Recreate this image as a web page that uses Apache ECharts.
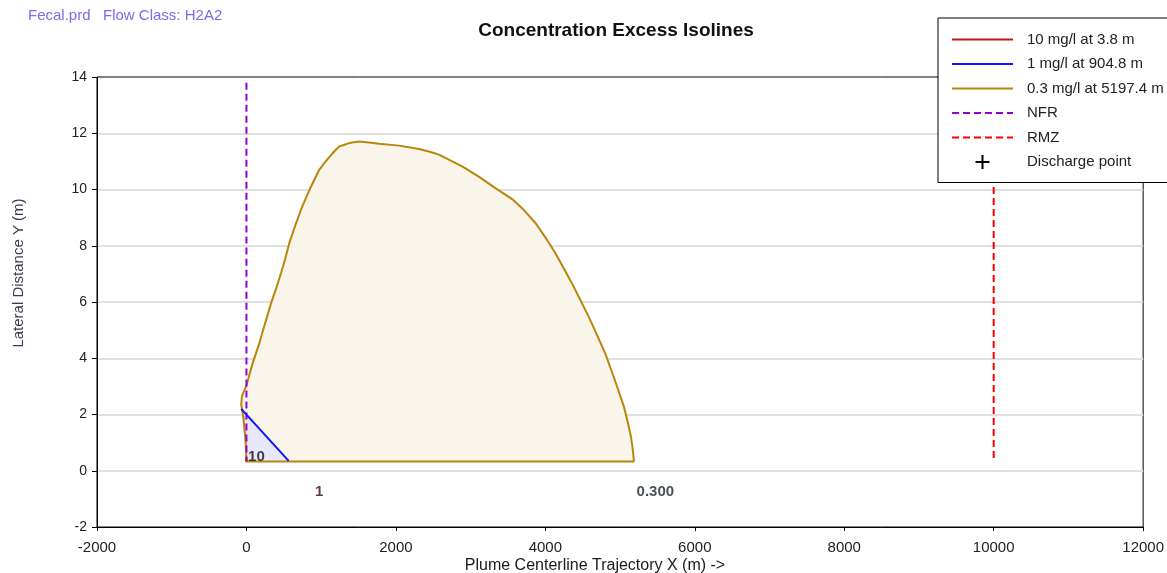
<!DOCTYPE html>
<html>
<head>
<meta charset="utf-8">
<title>Concentration Excess Isolines</title>
<script src="https://cdn.jsdelivr.net/npm/echarts@6/dist/echarts.min.js"></script>
<style>
  html, body { margin: 0; padding: 0; background: #ffffff; }
  #chart { width: 1167px; height: 573px; }
</style>
</head>
<body>
<div id="chart"></div>
<script>
// Axis ranges and ticks
const xRange = [-2000, 12000];
const xStep = 2000;
const yRange = [-2, 14];
const yStep = 2;

// 0.3 mg/l isoline (closed outline, metres)
const c03X = [0, -10, -40, -70, -60, -30, -4, 80, 173, 250, 330, 400, 463, 520, 574, 650, 730, 796, 863, 930, 974, 1041, 1108, 1174, 1241, 1375, 1508, 1641, 1775, 2042, 2309, 2442, 2576, 2887, 3109, 3332, 3560, 3720, 3870, 4000, 4133, 4244, 4355, 4467, 4578, 4689, 4800, 4889, 4975, 5050, 5105, 5145, 5165, 5180, 5185, 0];
const c03Y = [0.33, 1.0, 1.9, 2.35, 2.65, 2.85, 3.0, 3.8, 4.54, 5.25, 5.96, 6.5, 7.03, 7.55, 8.1, 8.7, 9.28, 9.7, 10.1, 10.46, 10.7, 10.94, 11.15, 11.35, 11.53, 11.65, 11.71, 11.67, 11.63, 11.56, 11.44, 11.35, 11.24, 10.82, 10.46, 10.05, 9.65, 9.25, 8.8, 8.3, 7.74, 7.21, 6.67, 6.08, 5.49, 4.84, 4.18, 3.53, 2.88, 2.29, 1.7, 1.22, 0.86, 0.5, 0.33, 0.33];

// 1 mg/l isoline
const c1X = [-70, 565, 0, -70];
const c1Y = [2.2, 0.35, 0.33, 2.2];

// 10 mg/l isoline (very small, close to the outfall)
const c10X = [0, 4, 0, 0];
const c10Y = [0.33, 0.33, 0.45, 0.33];

// Near-field region and regulatory mixing zone boundaries
const nfrX = [0, 0];
const nfrY = [13.8, 0.33];
const rmzX = [10000, 10000];
const rmzY = [14, 0.33];

// Discharge point (none plotted)
const dischargeX = [];
const dischargeY = [];

// Isoline value labels
const isoLabelText = ['10', '1', '0.300'];
const isoLabelX = [133, 974, 5472];
const isoLabelY = [0.5, -0.75, -0.75];
const isoLabelColors = ['#111111', '#3d0c0c', '#1c2233'];

// Series names
const names = {
  c10: '10 mg/l at 3.8 m',
  c1: '1 mg/l at 904.8 m',
  c03: '0.3 mg/l at 5197.4 m',
  nfr: 'NFR',
  rmz: 'RMZ',
  dp: 'Discharge point'
};

const zip = (xs, ys) => xs.map((x, i) => [x, ys[i]]);
const FONT = '"Liberation Sans", Arial, sans-serif';

function polygonSeries(points, fill) {
  return {
    type: 'custom',
    silent: true,
    z: 2,
    encode: { x: 0, y: 1 },
    data: points,
    renderItem: function (params, api) {
      if (params.dataIndex !== 0) return null;
      const pts = points.map(p => api.coord(p));
      return {
        type: 'polygon',
        shape: { points: pts },
        style: { fill: fill, stroke: null }
      };
    }
  };
}

function lineSeries(name, points, color, width, dashed) {
  return {
    name: name,
    type: 'line',
    z: 2,
    data: points,
    symbol: 'none',
    showSymbol: false,
    silent: true,
    itemStyle: { color: color },
    lineStyle: { color: color, width: width, type: dashed ? [7, 4] : 'solid' }
  };
}

const plusIcon = 'path://M6,0h2v6h6v2h-6v6h-2v-6h-6v-2h6z';

const chart = echarts.init(document.getElementById('chart'), null, { renderer: 'canvas' });

const option = {
  animation: false,
  backgroundColor: '#ffffff',
  textStyle: { fontFamily: FONT },
  grid: {
    left: 97, right: 20, top: 77, bottom: 46,
    show: true, borderColor: '#000000', borderWidth: 1, backgroundColor: 'transparent'
  },
  xAxis: {
    type: 'value',
    min: xRange[0], max: xRange[1], interval: xStep,
    axisLine: { onZero: false, lineStyle: { color: '#000000', width: 1 } },
    axisTick: { show: true, inside: false, length: 4, lineStyle: { color: '#000000' } },
    axisLabel: { color: '#222222', fontSize: 15, margin: 13, formatter: v => String(v) },
    splitLine: { show: false }
  },
  yAxis: {
    type: 'value',
    min: yRange[0], max: yRange[1], interval: yStep,
    axisLine: { show: true, onZero: false, lineStyle: { color: '#000000', width: 1 } },
    axisTick: { show: true, inside: false, length: 5, lineStyle: { color: '#000000' } },
    axisLabel: { color: '#222222', fontSize: 14, margin: 10, formatter: v => String(v) },
    splitLine: { show: true, showMinLine: false, showMaxLine: false, lineStyle: { color: '#e0e0e0', width: 2 } }
  },
  legend: {
    orient: 'vertical',
    left: 938, top: 18,
    z: 10,
    padding: [14, 24, 13, 13],
    itemWidth: 61, itemHeight: 14, itemGap: 9.5,
    backgroundColor: '#ffffff',
    borderColor: '#000000', borderWidth: 1,
    selectedMode: false,
    itemStyle: { opacity: 0 },
    textStyle: { color: '#222222', fontSize: 15, lineHeight: 14, padding: [0, 0, 0, 9] },
    data: [
      { name: names.c10 },
      { name: names.c1 },
      { name: names.c03 },
      { name: names.nfr },
      { name: names.rmz },
      { name: names.dp, icon: plusIcon, itemStyle: { opacity: 1, color: '#000000' } }
    ]
  },
  graphic: [
    {
      type: 'text', x: 28, y: 16,
      style: { text: 'Fecal.prd   Flow Class: H2A2', fill: '#8068e6', verticalAlign: 'middle', font: '15px ' + FONT }
    },
    {
      type: 'text', x: 616, y: 31,
      style: { text: 'Concentration Excess Isolines', fill: '#111111', align: 'center', verticalAlign: 'middle', font: 'bold 19px ' + FONT }
    },
    {
      type: 'text', x: 19, y: 273, rotation: Math.PI / 2,
      style: { text: 'Lateral Distance Y (m)', fill: '#3a3a55', align: 'center', verticalAlign: 'middle', font: '15px ' + FONT }
    },
    {
      type: 'text', x: 595, y: 566,
      style: { text: 'Plume Centerline Trajectory X (m) ->', fill: '#1a1a1a', align: 'center', verticalAlign: 'middle', font: '16px ' + FONT }
    }
  ],
  series: [
    polygonSeries(zip(c03X, c03Y), '#faf5ea'),
    polygonSeries(zip(c1X, c1Y), '#e8e8fa'),
    lineSeries(names.c03, zip(c03X, c03Y), '#b8860b', 2, false),
    lineSeries(names.nfr, zip(nfrX, nfrY), '#9400d3', 2, true),
    lineSeries(names.c1, zip(c1X.slice(0, 2), c1Y.slice(0, 2)), '#0a14ff', 2, false),
    lineSeries(names.c10, zip(c10X, c10Y), '#c0161c', 2, false),
    lineSeries(names.rmz, zip(rmzX, rmzY), '#ff0000', 2, true),
    {
      name: names.dp,
      type: 'scatter',
      z: 2,
      symbol: plusIcon,
      symbolSize: 14,
      itemStyle: { color: '#000000' },
      data: zip(dischargeX, dischargeY)
    },
    {
      type: 'scatter',
      silent: true,
      z: 3,
      symbolSize: 0,
      data: isoLabelText.map((t, i) => ({
        name: t,
        value: [isoLabelX[i], isoLabelY[i]],
        label: { color: isoLabelColors[i] }
      })),
      label: {
        show: true, position: 'inside',
        formatter: p => p.name,
        fontSize: 15, fontWeight: 'bold'
      }
    }
  ]
};

chart.setOption(option);
</script>
</body>
</html>
